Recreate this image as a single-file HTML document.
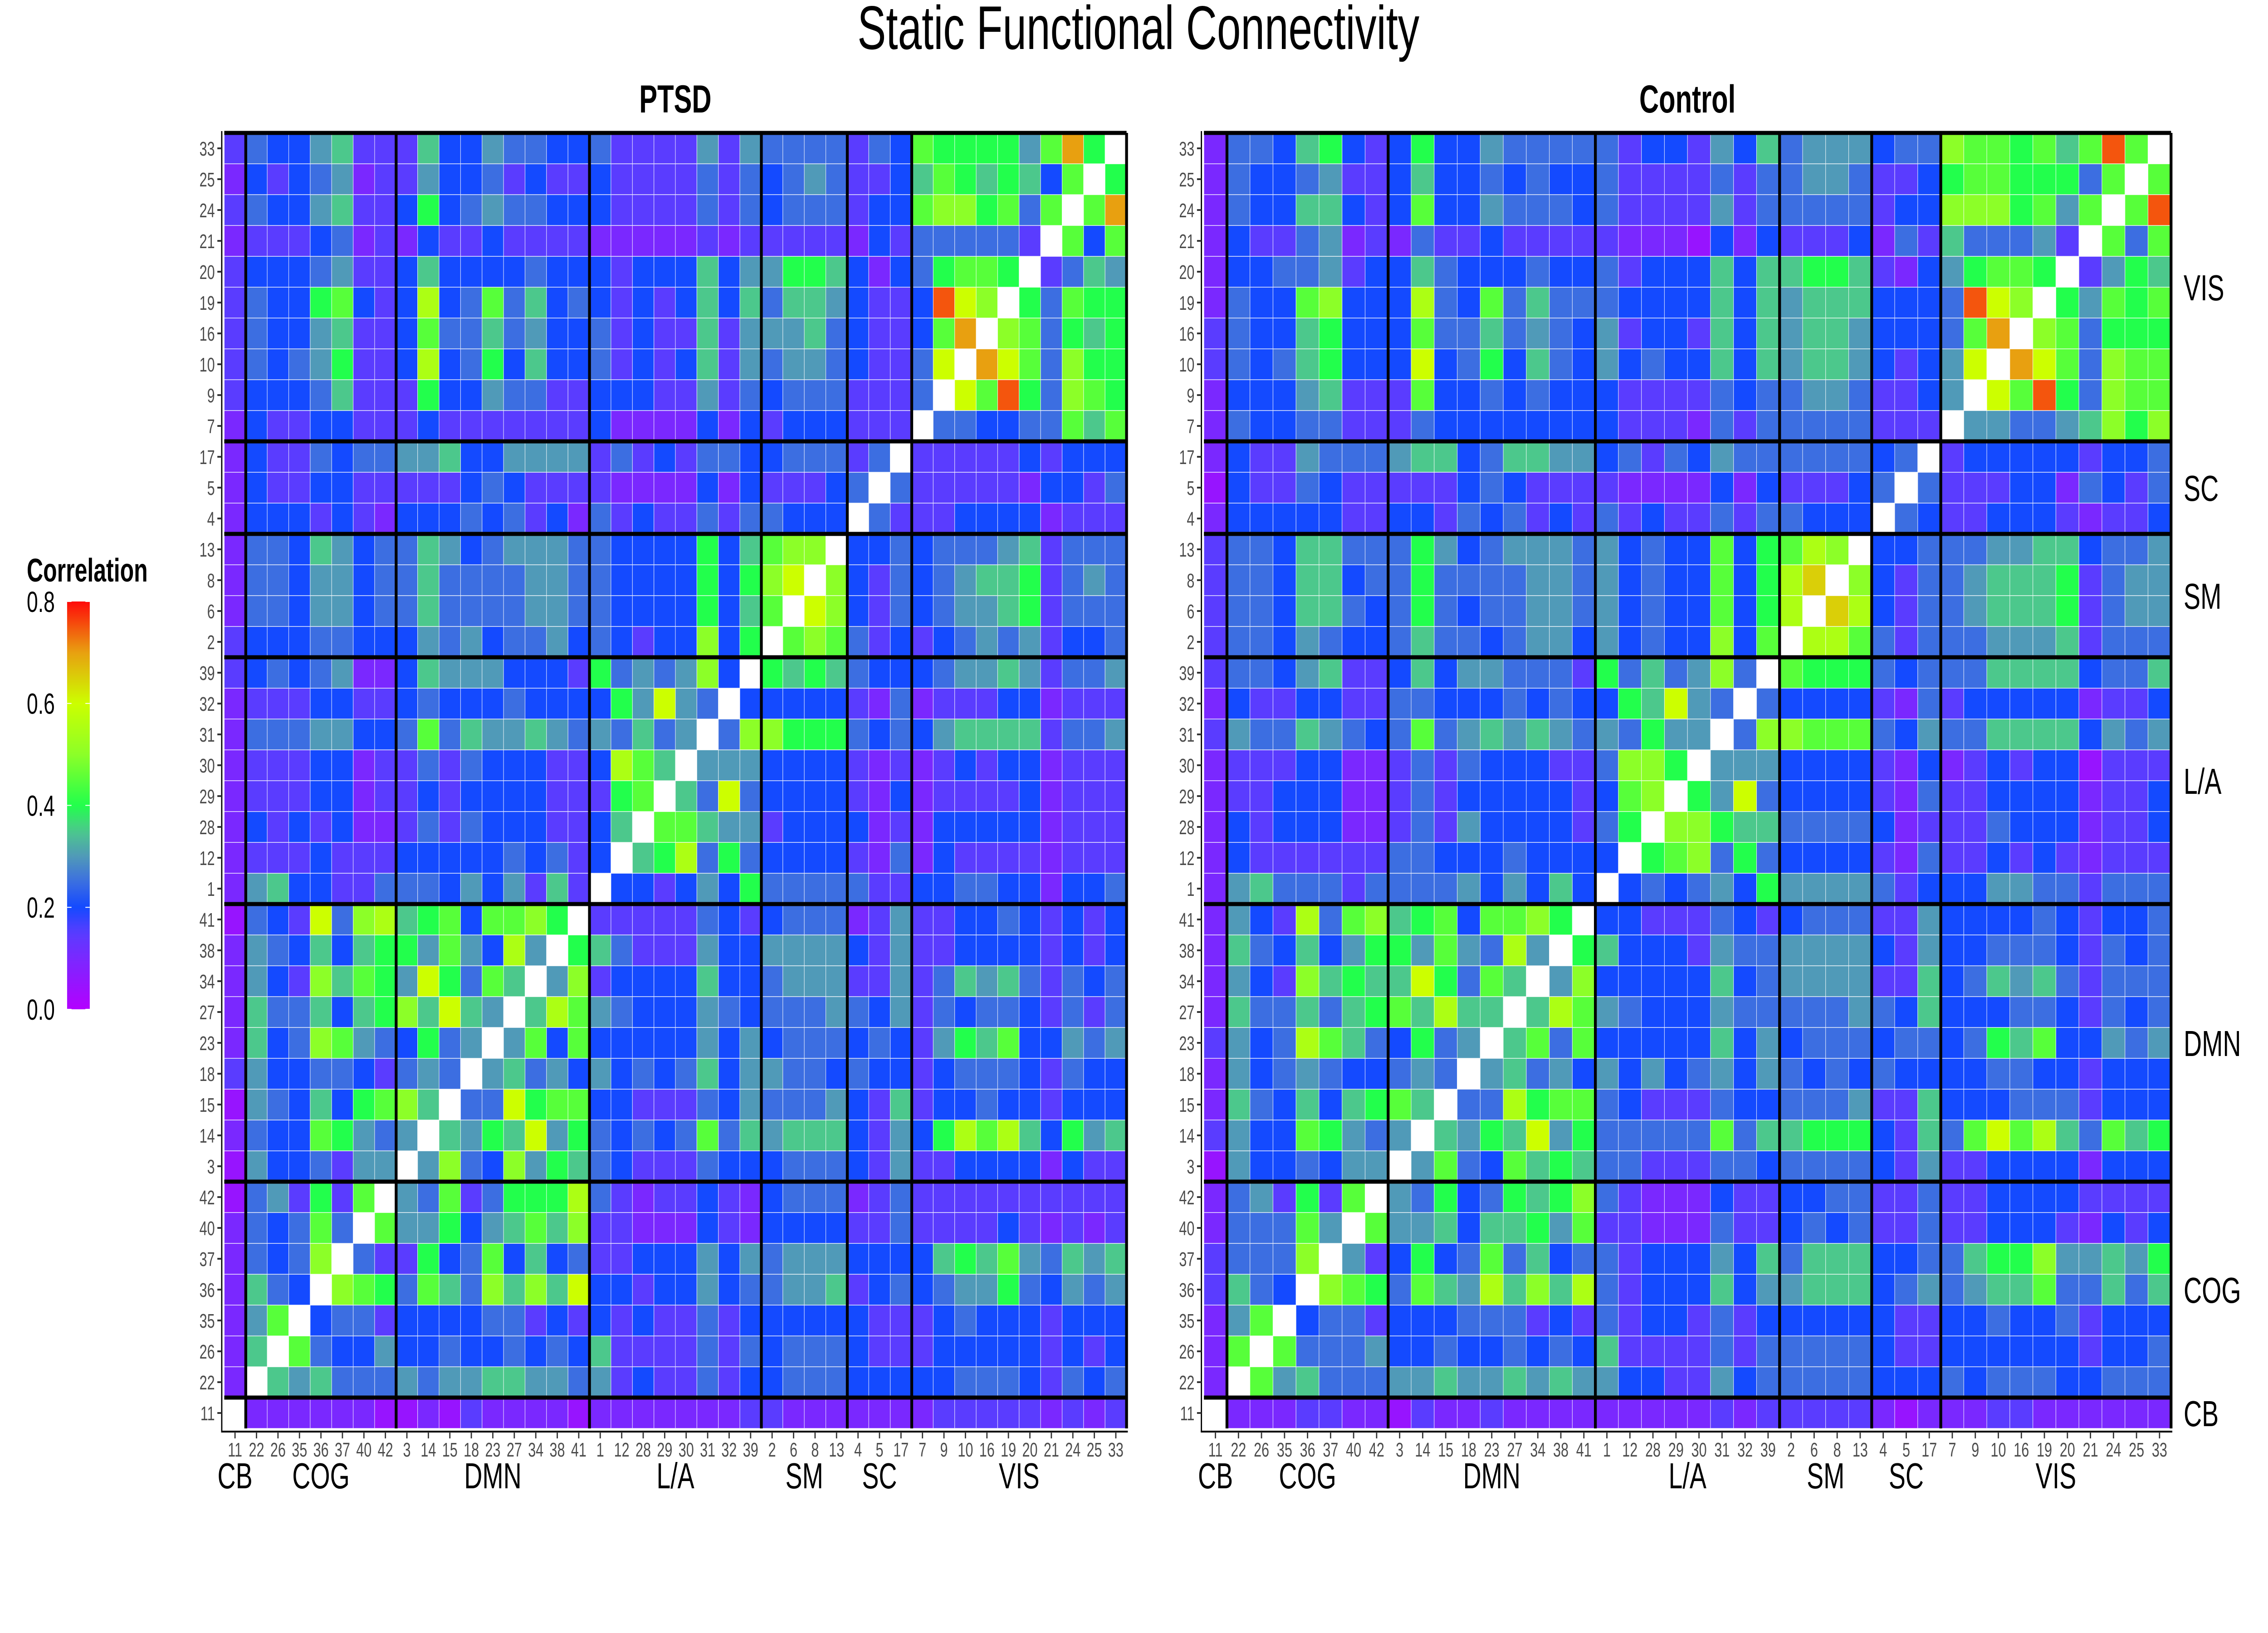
<!DOCTYPE html>
<html>
<head>
<meta charset="utf-8">
<style>
html,body{margin:0;padding:0;background:#fff;width:100%;height:100%;overflow:hidden;}
svg{display:block;width:100vw;height:100vh;}
text{font-family:"Liberation Sans",Arial,sans-serif;}
</style>
</head>
<body>
<svg id="chart" xmlns="http://www.w3.org/2000/svg" viewBox="0 0 7200 3600" preserveAspectRatio="none">
<rect x="0" y="0" width="7200" height="3600" fill="#fff"/>
<text x="3614" y="108" font-size="136" text-anchor="middle" fill="#000">Static Functional Connectivity</text>
</svg>
<script>
// ---- data ----
const groupNames = ["CB","COG","DMN","L/A","SM","SC","VIS"];
const groupNodes = [[11],[22,26,35,36,37,40,42],[3,14,15,18,23,27,34,38,41],[1,12,28,29,30,31,32,39],[2,6,8,13],[4,5,17],[7,9,10,16,19,20,21,24,25,33]];
// lower triangle rows, code char = value/0.05 (0-9,a-g)
const ptsdRows = ["",
"2","2 7","2 69","2 754","2 545a","2 54595","1 563839","1 6445366","2 5449865 6","1 6547489 a7",
"3 6445543 565","2 745a965 4856","2 7557478 a7c76","2 643a798 6c8597","2 6547478 86964b6","1 543c5ab 789499a8",
"2 6744335 554646373","2 3334333 444445453 4","2 4343422 353544433 47","2 3334423 343444433 389","2 3334423 353544433 4b97",
"2 5556644 595766765 65756","2 3334433 454445444 486c65","3 4545622 476664443 85656a4","3 4445544 465645564 54344a48",
"2 5546645 575555665 54444847 9","2 5546645 575555665 54444848 ac","2 5547645 576456665 54444847 9aa",
"2 4443432 444545342 53433535 5444","2 4334433 333454333 32222424 3334 5","2 4335455 667446666 35343554 4555 35",
"2 4334433 343333333 42222424 3444 333","3 4445733 384465533 44433635 4555 333 5","3 5456833 4b4584744 53434736 5665 433 5c",
"3 5446733 495575644 53433736 6675 433 49e","3 5448943 4b4595745 43434747 5776 433 4fca","3 4445633 474444544 43444746 6887 424 58998",
"2 3334523 243343333 22222323 3333 243 555553","3 5446733 484565544 43333535 4555 344 9aa8959","2 4345623 364453433 43333535 4565 334 79878749",
"3 5446733 374465544 53333636 5555 354 9888869e8"];
const controlRows = ["",
"2","2 9","2 69","3 754","3 555a","2 55596","2 563839","1 6445466","3 6449865 6","2 7547478 97",
"2 6456544 565","3 645b975 4856","2 7557578 97b77","2 643a787 7c8597","2 7547468 86965b6","2 643b59a 789499a8",
"2 6755535 555646474","2 4333333 554445444 4","2 4344422 353644443 58","2 3344422 353444443 49a","2 3334422 353544433 5aa8",
"3 6557654 595676765 65866","2 4334433 554445454 487c65","3 5546733 474665553 85756a5","3 5546544 575545664 64544a49",
"3 5547754 585455665 64544948 b","3 5547745 585555665 64544948 bd","3 5547755 586456665 64544948 9ba",
"2 4444433 443545343 53433535 5444","1 4335433 333454333 32222424 3334 5","2 4336555 677457766 45354655 5555 45",
"2 5445533 354444444 43332535 5555 333","2 4446733 394454544 43333545 5665 334 6","3 5457844 4c4584754 64544747 6776 434 6c",
"3 5447844 495575654 63443747 6776 444 59e","2 5449a44 4b5495755 54444747 6777 444 5fca","2 4455634 475444544 53444747 7887 324 68998",
"2 4335623 253343333 32221424 3334 253 755563","2 5447743 494465554 53333635 5555 344 aaa8969","2 5445633 474454544 53333535 5665 334 89988859",
"2 5547843 484465555 53443647 5666 455 a998979f9"];
const colorbarTicks = [0.0,0.2,0.4,0.6,0.8];
const colorbarLabels = ["0.0","0.2","0.4","0.6","0.8"];

// ---- helpers ----
const NS="http://www.w3.org/2000/svg";
const svg=document.getElementById('chart');
function mk(tag,attrs,parent){const e=document.createElementNS(NS,tag);for(const k in attrs)e.setAttribute(k,attrs[k]);(parent||svg).appendChild(e);return e;}
const stops=[[0,[179,0,255]],[0.1,[122,40,255]],[0.15,[90,60,255]],[0.2,[20,74,255]],[0.25,[60,110,225]],[0.3,[80,154,184]],[0.35,[76,200,140]],[0.4,[34,255,76]],[0.5,[140,255,40]],[0.6,[204,255,0]],[0.7,[232,160,16]],[0.8,[255,10,10]]];
function color(v){
  if(v<=0)return 'rgb(179,0,255)';if(v>=0.8)return 'rgb(255,10,10)';
  for(let i=1;i<stops.length;i++){if(v<=stops[i][0]){const a=stops[i-1],b=stops[i];const t=(v-a[0])/(b[0]-a[0]);const c=a[1].map((x,k)=>Math.round(x+(b[1][k]-x)*t));return 'rgb('+c.join(',')+')';}}
}
const nodes=[].concat(...groupNodes);
const N=nodes.length;
function parseTri(rows){return rows.map(r=>r.replace(/ /g,'').split('').map(c=>parseInt(c,36)*0.05));}
function val(tri,i,j){if(i===j)return null;const a=i>j?tri[i][j]:tri[j][i];return a===undefined||isNaN(a)?0.1:a;}

// ---- heatmap drawing ----
function drawMatrix(rows,x0,y0,cw,ch,name,title,titleX,rightLabels){
  const tri=parseTri(rows);
  const g=mk('g',{});
  
  
  const xs=j=>x0+j*cw, ys=i=>y0+(N-1-i)*ch;
  for(let i=0;i<N;i++)for(let j=0;j<N;j++){
    const v=val(tri,i,j);
    const r=mk('rect',{x:xs(j),y:ys(i),width:cw,height:ch,fill:v===null?'#ffffff':color(v),stroke:'#ffffff','stroke-width':1.6,'stroke-opacity':0.7},g);
    
    
  }
  const W=N*cw,H=N*ch;
  let acc=0;const bounds=[];
  groupNodes.forEach(gr=>{acc+=gr.length;bounds.push(acc);});
  bounds.forEach(b=>{
    const lv=mk('line',{x1:xs(b),x2:xs(b),y1:y0,y2:y0+H,stroke:'#000','stroke-width':9});
    
    
    const yy=y0+(N-b)*ch;
    const lh=mk('line',{x1:x0,x2:x0+W,y1:yy,y2:yy,stroke:'#000','stroke-width':9});
    
    
  });
  const ay=mk('line',{x1:x0-8,x2:x0-8,y1:y0-4,y2:y0+H+8,stroke:'#000','stroke-width':4});
  
  
  const ax=mk('line',{x1:x0-10,x2:x0+W+4,y1:y0+H+7,y2:y0+H+7,stroke:'#000','stroke-width':4});
  
  
  for(let k=0;k<N;k++){
    const cx=xs(k)+cw/2, cy=ys(k)+ch/2;
    mk('line',{x1:x0-22,x2:x0-8,y1:cy,y2:cy,stroke:'#333','stroke-width':4});
    const yl=mk('text',{x:x0-30,y:cy+16,'font-size':44,'text-anchor':'end',fill:'#4d4d4d'});
    yl.textContent=nodes[k];
    
    
    mk('line',{x1:cx,x2:cx,y1:y0+H+7,y2:y0+H+22,stroke:'#333','stroke-width':4});
    const xl=mk('text',{x:cx,y:y0+H+62,'font-size':44,'text-anchor':'middle',fill:'#4d4d4d'});
    xl.textContent=nodes[k];
    
    
  }
  let s=0;
  groupNodes.forEach((gr,gi)=>{
    const cx=xs(s+gr.length/2);
    const t=mk('text',{x:cx,y:y0+H+132,'font-size':80,'text-anchor':'middle',fill:'#000'});
    t.textContent=groupNames[gi];
    
    
    if(rightLabels){
      const cy=y0+(N-s-gr.length/2)*ch;
      const rt=mk('text',{x:x0+W+40,y:cy+29,'font-size':80,fill:'#000'});
      rt.textContent=groupNames[gi];
      
      
    }
    s+=gr.length;
  });
  const tt=mk('text',{x:titleX,y:248,'font-size':86,'font-weight':'bold','text-anchor':'middle',fill:'#000'});
  tt.textContent=title;
  
  
}
drawMatrix(ptsdRows,712,293,68.2,68.0,'ptsd','PTSD',2144,false);
drawMatrix(controlRows,3822,293,73.1,68.0,'control','Control',5357,true);

// ---- colorbar ----
const defs=mk('defs',{});
const lg=mk('linearGradient',{id:'cbgrad',x1:0,y1:1,x2:0,y2:0},defs);
for(let k=0;k<=40;k++){const v=k*0.02;mk('stop',{offset:(k/40),'stop-color':color(v)},lg);}
const cbTop=1326,cbBot=2225,cbX=213,cbW=72;
const cb=mk('rect',{x:cbX,y:cbTop,width:cbW,height:cbBot-cbTop,fill:'url(#cbgrad)'});


const cbT=mk('text',{x:85,y:1282,'font-size':72,'font-weight':'bold',fill:'#000'});
cbT.textContent='Correlation';


colorbarTicks.forEach((v,k)=>{
  const y=cbBot-(v/0.8)*(cbBot-cbTop);
  mk('line',{x1:cbX,x2:cbX+14,y1:y,y2:y,stroke:'#fff','stroke-width':2});
  mk('line',{x1:cbX+cbW-14,x2:cbX+cbW,y1:y,y2:y,stroke:'#fff','stroke-width':2});
  const t=mk('text',{x:85,y:y+23,'font-size':64,fill:'#000'});
  t.textContent=colorbarLabels[k];
  
  
});
</script>
</body>
</html>
